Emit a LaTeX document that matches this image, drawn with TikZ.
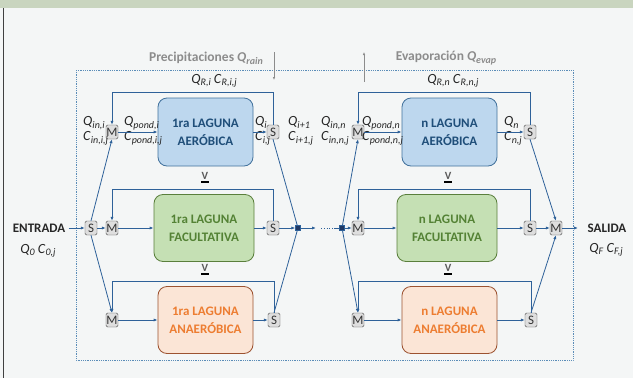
\documentclass[tikz,border=0pt]{standalone}
\usepackage{fontspec}
\setmainfont{Carlito}
\usetikzlibrary{arrows.meta,positioning,calc}
\definecolor{lnblue}{HTML}{2E6199}
\definecolor{aerfill}{HTML}{BDD7EE}
\definecolor{aerdraw}{HTML}{41719C}
\definecolor{aertext}{HTML}{1F4E79}
\definecolor{facfill}{HTML}{C5E0B4}
\definecolor{facdraw}{HTML}{5A7F3C}
\definecolor{factext}{HTML}{548235}
\definecolor{anafill}{HTML}{FBE5D6}
\definecolor{anadraw}{HTML}{9C5230}
\definecolor{anatext}{HTML}{ED7D31}
\definecolor{bggrey}{HTML}{F4F6F6}
\definecolor{band}{HTML}{C9D5BF}
\definecolor{frameblue}{HTML}{5B8DB8}
\definecolor{lblgrey}{HTML}{8C8C8C}
\definecolor{txtdark}{HTML}{262626}
\definecolor{juncblue}{HTML}{1F3864}
\newcommand{\vsub}[2]{\textit{#1}\raisebox{-2.6pt}{\fontsize{10}{10}\selectfont\textit{#2}}}

\begin{document}
\begin{tikzpicture}[
x=1pt,y=-1pt,
laguna/.style={rounded corners=9pt,line width=0.8pt,align=center,
font=\fontsize{13}{18}\selectfont\bfseries,minimum width=95pt,
minimum height=68pt,inner sep=0pt},
aer/.style={laguna,fill=aerfill,draw=aerdraw,text=aertext},
fac/.style={laguna,fill=facfill,draw=facdraw,text=factext,minimum width=100pt,
minimum height=67pt},
ana/.style={laguna,fill=anafill,draw=anadraw,text=anatext,minimum height=67pt},
mix/.style={draw=black!70,fill=black!13,rounded corners=1.5pt,
minimum width=12pt,minimum height=14pt,inner sep=0pt,
font=\fontsize{13}{13}\selectfont,text=black!80},
junc/.style={fill=juncblue,draw=lnblue,minimum size=5pt,inner sep=0pt},
pipe/.style={lnblue,line width=0.8pt},
flow/.style={pipe,-{Latex[length=4pt,width=3.2pt]}},
lbl/.style={font=\fontsize{14}{15}\selectfont,align=left,anchor=west,
text=txtdark,inner sep=0pt},
io/.style={font=\fontsize{13}{14}\selectfont\bfseries,text=txtdark},
vol/.style={font=\fontsize{11}{11}\selectfont\bfseries,text=black!65,inner sep=0pt},
ext/.style={font=\fontsize{13.5}{14}\selectfont\bfseries,text=lblgrey},
extarr/.style={lblgrey,line width=0.6pt,-{Latex[length=3pt,width=2.5pt]}}
]
\useasboundingbox (0,0) rectangle (633,378);
\fill[bggrey] (0,0) rectangle (633,378);
\fill[band] (0,0) rectangle (633,8);
\draw[black!75,line width=1.6pt] (3.5,8) -- (3.5,378);
\draw[frameblue,densely dotted,line width=0.8pt] (76,70) rectangle (573,360);

% external flows
\node[ext] (rain) at (206,58) {Precipitaciones \vsub{Q}{rain}};
\node[ext] (evap) at (446,58) {Evaporación \vsub{Q}{evap}};
\coordinate (rainA) at (274,52);
\coordinate (rainB) at (274,80);
\coordinate (evapA) at (364,82);
\coordinate (evapB) at (364,52);
\draw[extarr] (rainA) -- (rainB);
\draw[extarr] (evapA) -- (evapB);

% inlet / outlet
\node[io] (ent) at (39,228) {ENTRADA};
\node[lbl,anchor=center] (q0) at (38,251) {\vsub{Q}{0} \vsub{C}{0,j}};
\node[mix] (sIn) at (91,228) {S};
\node[io] (sal) at (607,228) {SALIDA};
\node[lbl,anchor=center] (qf) at (606,250) {\vsub{Q}{F} \vsub{C}{F,j}};
\node[mix] (mOut) at (556,228) {M};
\coordinate (out) at (578,228);

% first ponds
\node[aer] (bA1) at (205.5,132) {1ra LAGUNA\\AERÓBICA};
\node[fac] (bF1) at (204,228) {1ra LAGUNA\\FACULTATIVA};
\node[ana] (bN1) at (205.5,320) {1ra LAGUNA\\ANAERÓBICA};
\node[mix] (mA1) at (112,132) {M};
\node[mix] (sA1) at (273,132) {S};
\node[mix] (mF1) at (112,228) {M};
\node[mix] (sF1) at (273,228) {S};
\node[mix] (mN1) at (112,320) {M};
\node[mix] (sN1) at (274,320) {S};
\node[junc] (j1) at (298,228) {};

% n-th ponds
\node[aer] (bA2) at (449.5,132) {n LAGUNA\\AERÓBICA};
\node[fac] (bF2) at (447,228) {n LAGUNA\\FACULTATIVA};
\node[ana] (bN2) at (449.5,320) {n LAGUNA\\ANAERÓBICA};
\node[mix] (mA2) at (358,132) {M};
\node[mix] (sA2) at (530,132) {S};
\node[mix] (mF2) at (358,228) {M};
\node[mix] (sF2) at (530,228) {S};
\node[mix] (mN2) at (358,320) {M};
\node[mix] (sN2) at (531,320) {S};
\node[junc] (j2) at (342,228) {};
\coordinate (e1) at (316,228);
\coordinate (e2) at (321,228);
\coordinate (e3) at (334,228);

% volumes
\node[vol] (vA1) at (205,176) {V};
\node[vol] (vF1) at (205,268) {V};
\node[vol] (vA2) at (448,176) {V};
\node[vol] (vF2) at (448,268) {V};
\foreach \v in {vA1,vF1,vA2,vF2}
\draw[black,line width=1.6pt] ([xshift=-4pt,yshift=-2pt]\v.south) -- ([xshift=4pt,yshift=-2pt]\v.south);

% flow labels
\node[lbl,anchor=center] (qr1) at (214,81) {\vsub{Q}{R,i} \vsub{C}{R,i,j}};
\node[lbl,anchor=center] (qr2) at (453,81) {\vsub{Q}{R,n} \vsub{C}{R,n,j}};
\node[lbl] (qin1) at (83,131) {\vsub{Q}{in,i}\\\vsub{C}{in,i,j}};
\node[lbl] (qp1) at (124,131) {\vsub{Q}{pond,i}\\\vsub{C}{pond,i,j}};
\node[lbl] (qo1) at (255,131) {\vsub{Q}{i}\\\vsub{C}{i,j}};
\node[lbl] (qn1) at (288,131) {\vsub{Q}{i+1}\\\vsub{C}{i+1,j}};
\node[lbl] (qin2) at (321,131) {\vsub{Q}{in,n}\\\vsub{C}{in,n,j}};
\node[lbl] (qp2) at (362,131) {\vsub{Q}{pond,n}\\\vsub{C}{pond,n,j}};
\node[lbl] (qo2) at (504,131) {\vsub{Q}{n}\\\vsub{C}{n,j}};

% connectors
\foreach \m/\b/\s in {mA1/bA1/sA1,mF1/bF1/sF1,mN1/bN1/sN1,
mA2/bA2/sA2,mF2/bF2/sF2,mN2/bN2/sN2}{
\draw[flow] (\m) -- (\b);
\draw[flow] (\b) -- (\s);
\draw[flow] (\s.north) |- ([yshift=5pt]\b.north) -| (\m.north);
}
\draw[flow] (ent) -- (sIn);
\draw[flow] (sIn) -- (mF1);
\draw[flow] (sIn.north) -- (mA1.south);
\draw[flow] (sIn.south) -- (mN1.north);
\draw[pipe] (sA1.south) -- (j1);
\draw[pipe] (sN1.north) -- (j1);
\draw[flow] (sF1) -- (j1);
\draw[flow] (j1) -- (e1);
\draw[pipe,dotted] (e2) -- (e3);
\draw[pipe] (e3) -- (j2);
\draw[flow] (j2) -- (mA2.south);
\draw[flow] (j2) -- (mF2);
\draw[flow] (j2) -- (mN2.north);
\draw[flow] (sA2.south) -- (mOut.north);
\draw[flow] (sN2.north) -- (mOut.south);
\draw[flow] (sF2) -- (mOut);
\draw[flow] (mOut) -- (out);
\end{tikzpicture}
\end{document}
